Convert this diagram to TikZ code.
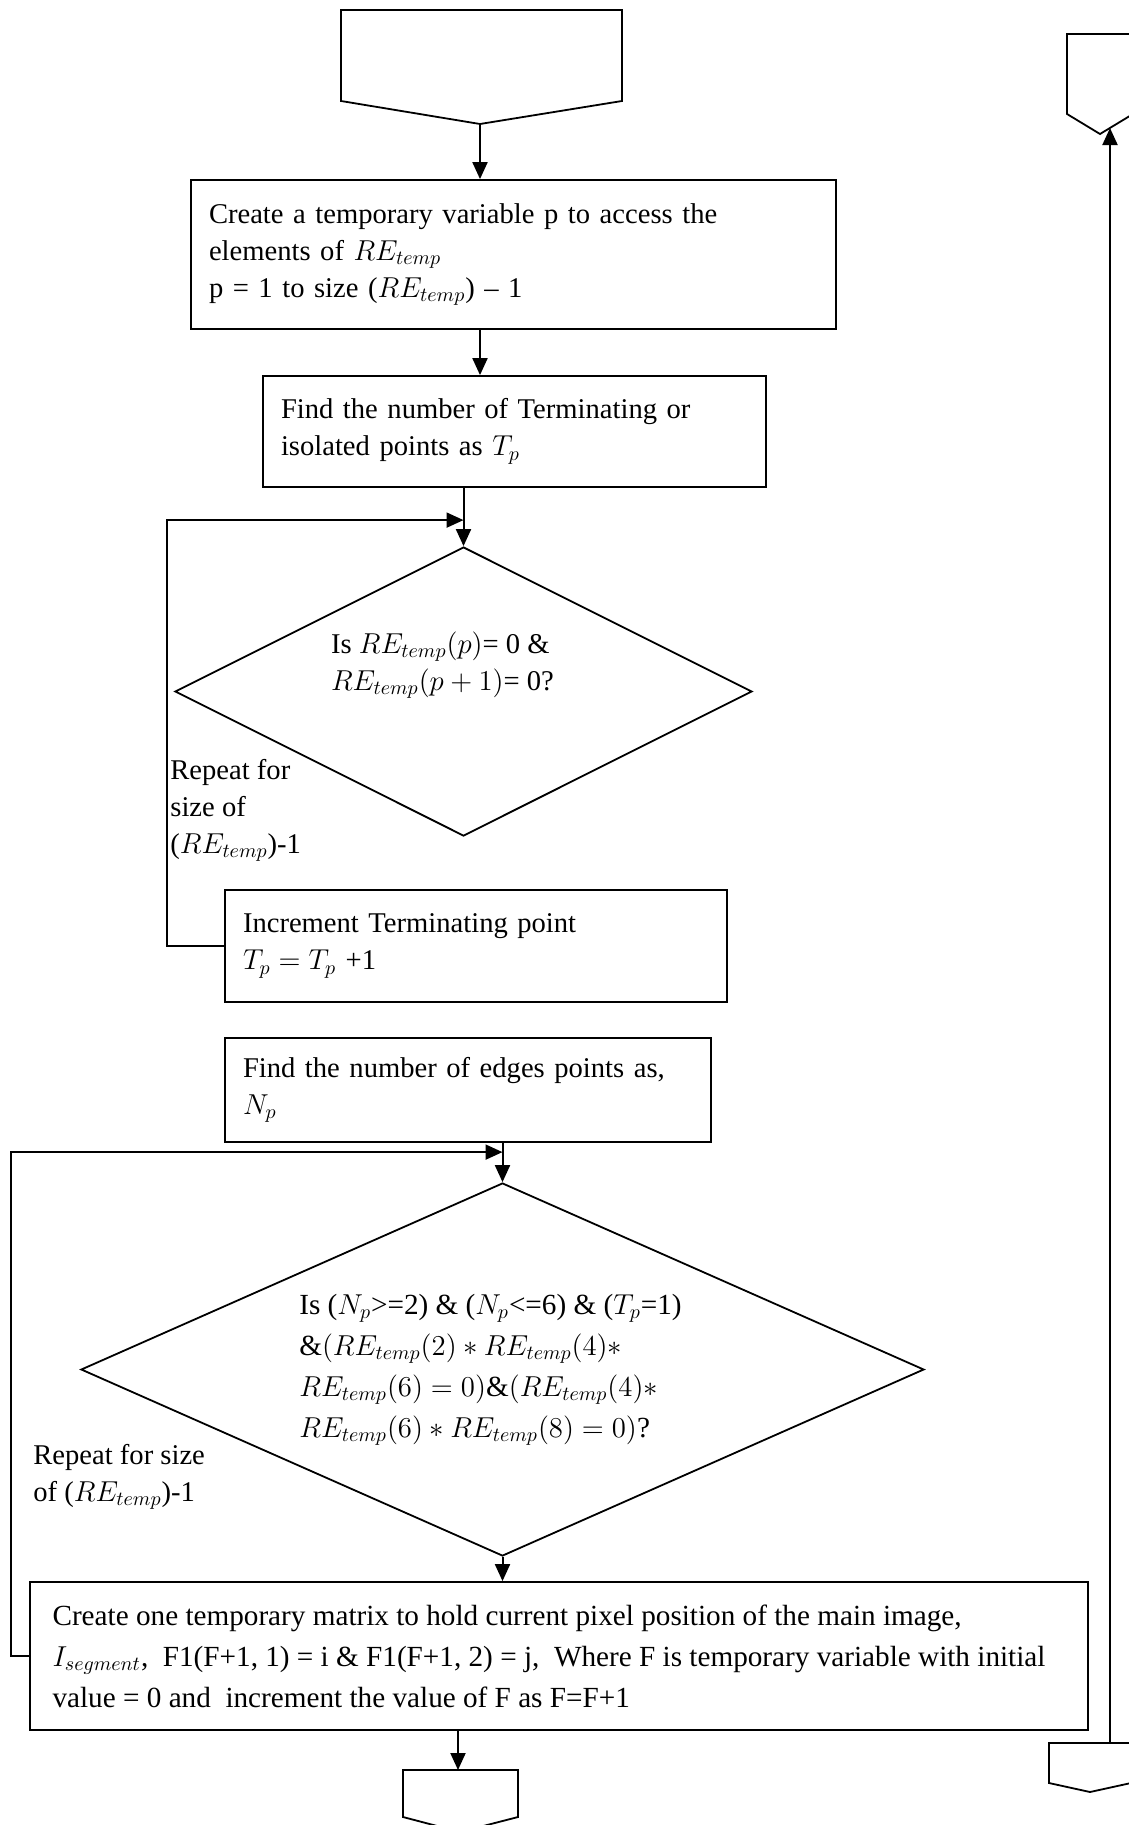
\documentclass[tikz,border=0pt]{standalone}
\usepackage{fontspec}
\setmainfont{Liberation Serif}
\usetikzlibrary{arrows.meta,positioning,calc,shapes.geometric}

\begin{document}
\begin{tikzpicture}[
  x=0.5pt,y=-0.5pt,
  font=\fontsize{14.3}{18.5}\selectfont,
  arr/.style={-{Triangle[length=8.5pt,width=7.5pt]},line width=1pt},
  box/.style={draw,line width=0.9pt,align=left,inner xsep=9pt,inner ysep=0pt},
  dec/.style={draw,diamond,line width=0.9pt,align=left,inner sep=0pt},
  offpage/.style={draw,line width=0.9pt},
  lbl/.style={align=left,inner sep=1pt,anchor=north west},
  wide/.style={font=\fontsize{14.6}{20.5}\selectfont},
]
\useasboundingbox (0,0) rectangle (1129,1825);

% ====================================================== off-page connectors
\draw[offpage] (341,10) -- (622,10) -- (622,101) -- (480,124) -- (341,101) -- cycle;
\coordinate (conTop) at (480,124);
\draw[offpage] (403,1770) -- (518,1770) -- (518,1817) -- (460,1832) -- (403,1817) -- cycle;
\coordinate (conBot) at (458,1770);
\draw[offpage] (1067,34) -- (1133,34) -- (1133,114) -- (1100,134) -- (1067,114) -- cycle;
\coordinate (retTop) at (1110,128);
\draw[offpage] (1049,1743) -- (1131,1743) -- (1131,1783) -- (1090,1792) -- (1049,1783) -- cycle;
\coordinate (retBot) at (1110,1743);

% ====================================================== process boxes
\node[box,text width=304.5pt,minimum height=74.5pt] (access) at (513.5,254.5)
  {Create a temporary variable p to access the\\
   elements of $RE_{temp}$\\
   p = 1 to size ($RE_{temp}$) -- 1};

\node[box,text width=233.5pt,minimum height=55.5pt] (termpts) at (514.5,431.5)
  {Find the number of Terminating or\\
   isolated points as $T_p$};

\node[dec,aspect=2,minimum width=288.5pt,minimum height=144.5pt] (isTerm) at (463.5,691.5)
  {Is $RE_{temp}(p)$= 0 \&\\
   $RE_{temp}(p+1)$= 0?\rule{21pt}{0pt}\\[12pt]\mbox{}};

\node[box,text width=233pt,minimum height=56pt] (incr) at (476,946)
  {Increment Terminating point\\
   $T_p = T_p$ +1};

\node[box,text width=225pt,minimum height=52pt] (edges) at (468,1090)
  {Find the number of edges points as,\\
   $N_p$};

\node[dec,wide,aspect=2.26,minimum width=421.5pt,minimum height=186.5pt] (isEdge) at (502.5,1369.5)
  {Is ($N_p$>=2) \& ($N_p$<=6) \& ($T_p$=1)\rule{12pt}{0pt}\\
   \&$\bigl(RE_{temp}(2) \ast RE_{temp}(4) \ast$\\
   $RE_{temp}(6) = 0\bigr)$\&$\bigl(RE_{temp}(4) \ast$\\
   $RE_{temp}(6) \ast RE_{temp}(8) = 0\bigr)$?};

\node[box,wide,inner xsep=0pt,minimum width=529pt,minimum height=74pt] (hold) at (559,1656)
  {Create one temporary matrix to hold current pixel position of the main image,\\
   $I_{segment}$,\ \ F1(F+1, 1) = i \& F1(F+1, 2) = j,\ \ Where F is temporary variable with initial\rule{10pt}{0pt}\\
   value = 0 and\ \ increment the value of F as F=F+1};

% loop labels
\node[lbl] (rep1) at (168,757) {Repeat for\\size of\\($RE_{temp}$)-1};
\node[lbl] (rep2) at (31,1442) {Repeat for size\\of ($RE_{temp}$)-1};

% ====================================================== flow
\draw[arr] (conTop) -- (conTop |- access.north);
\draw[arr] (conTop |- access.south) -- (conTop |- termpts.north);
\draw[arr] (isTerm.north |- termpts.south) -- (isTerm.north);

\coordinate (join1) at ($(isTerm.north)+(0,-26)$);
\draw[arr] (incr.west) -- ++(-57,0) |- (join1);

\draw[arr] (isEdge.north |- edges.south) -- (isEdge.north);
\coordinate (join2) at ($(isEdge.north)+(0,-30)$);
\draw[arr] (hold.west) -- ++(-18,0) |- (join2);

\draw[arr] (isEdge.south) -- (isEdge.south |- hold.north);
\draw[arr] (conBot |- hold.south) -- (conBot);

\draw[arr] (retBot) -- (retTop);

\end{tikzpicture}
\end{document}
